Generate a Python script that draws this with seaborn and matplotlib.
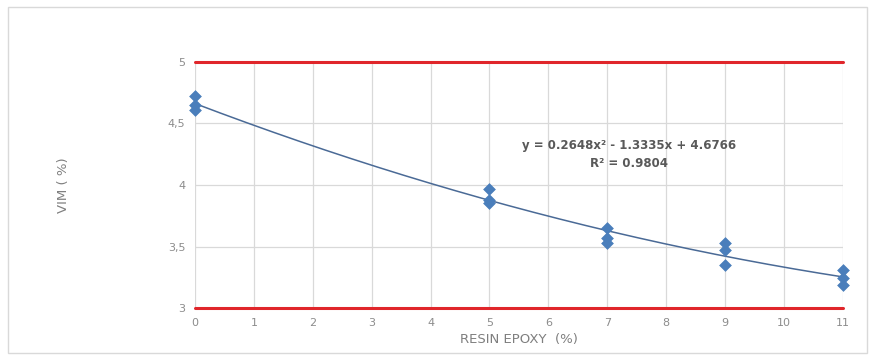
import numpy as np
import pandas as pd
import matplotlib.pyplot as plt
import seaborn as sns
from matplotlib.patches import Rectangle
from matplotlib.ticker import FuncFormatter

# resin content (%) and measured VIM (%)
resin = [0, 0, 0, 5, 5, 5, 7, 7, 7, 9, 9, 9, 11, 11, 11]
vim = [4.72, 4.65, 4.61, 3.97, 3.88, 3.85, 3.65, 3.57, 3.53, 3.53, 3.47, 3.35, 3.31, 3.24, 3.19]
limits = [3, 5]
x_ticks = list(range(0, 12))
y_ticks = [3, 3.5, 4, 4.5, 5]

df = pd.DataFrame({"resin": resin, "vim": vim})

sns.set_style("white")
plt.rcParams['font.family'] = ['DejaVu Sans']

fig = plt.figure(figsize=(8.72, 3.6), dpi=100)
ax = fig.add_axes([0.2236, 0.1444, 0.743, 0.6834])

# polynomial trendline (order 2)
coef = np.polyfit(df["resin"], df["vim"], 2)
xs = np.linspace(0, 11, 200)
trend = pd.DataFrame({"x": xs, "y": np.polyval(coef, xs)})
sns.lineplot(data=trend, x="x", y="y", ax=ax, color="#4a6a96", linewidth=1.1, zorder=3)

sns.scatterplot(data=df, x="resin", y="vim", ax=ax, marker="D", s=36,
                color="#4a7ebb", edgecolor="#4a7ebb", zorder=4, clip_on=False)

for lim in limits:
    ax.axhline(lim, color="#e0262b", linewidth=2.2, zorder=2, clip_on=False)

ax.set_xlim(0, 11)
ax.set_ylim(3, 5)
ax.set_xticks(x_ticks)
ax.set_yticks(y_ticks)
ax.yaxis.set_major_formatter(FuncFormatter(lambda v, p: ('%g' % v).replace('.', ',')))
ax.grid(True, color="#d9d9d9", linewidth=0.9)
ax.set_axisbelow(True)
for s in ax.spines.values():
    s.set_visible(False)
ax.tick_params(length=0, labelsize=8, labelcolor="#8c8c8c", pad=7)

ax.set_xlabel("RESIN EPOXY  (%)", fontsize=9.5, color="#7f7f7f", labelpad=4)
ax.set_ylabel("VIM ( %)", fontsize=9.5, color="#7f7f7f", labelpad=70)

ax.text(7.37, 4.25, "y = 0.2648x² - 1.3335x + 4.6766\nR² = 0.9804", ha="center", va="center",
        fontsize=8.5, color="#595959", fontweight="bold", linespacing=1.5)

fig.patches.append(Rectangle((0.009, 0.02), 0.985, 0.96, transform=fig.transFigure,
                             fill=False, edgecolor="#d9d9d9", linewidth=1))

fig.savefig("out.png", dpi=100)
